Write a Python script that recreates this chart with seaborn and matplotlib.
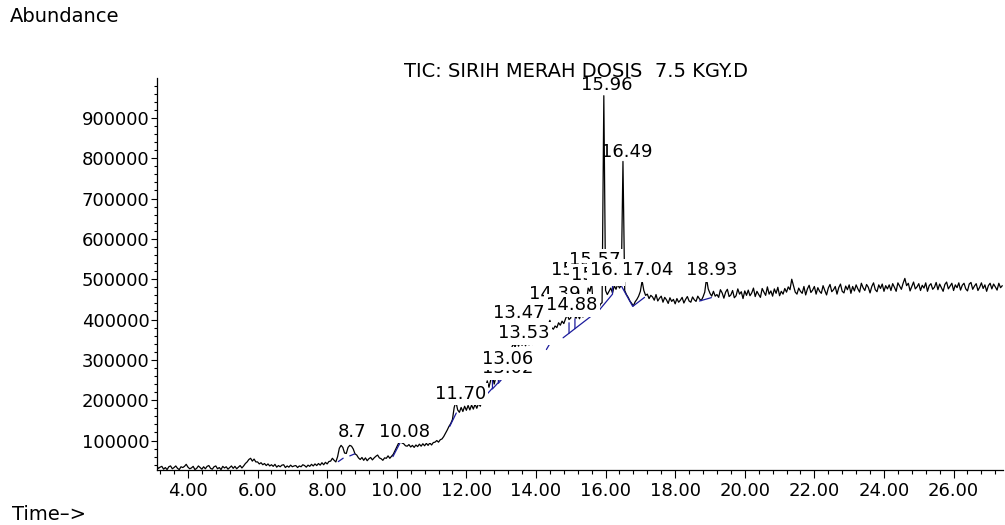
import numpy as np
import pandas as pd
import matplotlib
matplotlib.use("Agg")
import matplotlib.pyplot as plt
import seaborn as sns
from matplotlib.ticker import MultipleLocator, FuncFormatter

# ---------------- data ----------------
title = "TIC: SIRIH MERAH DOSIS  7.5 KGY.D"
y_label = "Abundance"
x_label = "Time\u2013>"

rt_start = 3.10      # retention time of first sample, min
rt_step = 0.05       # sampling interval, min

# abundance in thousands of counts, one row per minute
trace_a = [  # 3.10 - 8.05
    38, 31, 34, 36, 29, 33, 28, 35, 37, 30, 33, 37, 31, 28, 35, 33, 36, 41, 34, 30,
    32, 36, 28, 31, 37, 33, 29, 35, 30, 36, 38, 31, 29, 35, 37, 30, 33, 28, 36, 32,
    35, 29, 33, 37, 31, 36, 30, 34, 38, 32, 37, 43, 47, 53, 56, 49, 54, 47, 47, 42,
    45, 40, 43, 38, 42, 37, 40, 36, 41, 34, 38, 35, 39, 40, 33, 37, 34, 39, 35, 37,
    38, 33, 37, 35, 40, 38, 34, 39, 36, 41, 37, 42, 38, 43, 39, 45, 40, 46, 42, 48,
]
trace_b = [  # 8.10 - 13.05
    49, 56, 51, 47, 60, 81, 88, 83, 69, 68, 83, 88, 86, 79, 67, 64, 57, 53, 58, 51,
    57, 50, 55, 58, 52, 57, 61, 64, 57, 55, 51, 57, 56, 62, 56, 61, 66, 75, 84, 93,
    99, 94, 92, 87, 86, 90, 84, 88, 83, 89, 85, 91, 86, 92, 87, 93, 88, 94, 89, 95,
    96, 100, 96, 102, 104, 110, 118, 126, 135, 142, 152, 182, 196, 176, 170, 182, 172, 185, 175, 187,
    176, 188, 178, 190, 180, 192, 185, 200, 212, 230, 248, 232, 250, 262, 240, 258, 266, 250, 262, 275,
]
trace_c = [  # 13.10 - 18.05
    270, 288, 302, 318, 330, 340, 332, 344, 334, 346, 336, 347, 335, 345, 337, 348, 338, 347, 339, 349,
    352, 360, 368, 374, 380, 386, 398, 380, 376, 384, 380, 392, 386, 396, 390, 402, 412, 400, 404, 470,
    410, 403, 412, 402, 414, 406, 418, 440, 478, 470, 490, 430, 422, 434, 426, 438, 442, 955, 472, 462,
    470, 478, 466, 484, 475, 488, 478, 485, 792, 472, 462, 455, 446, 440, 434, 444, 450, 458, 470, 496,
    472, 460, 463, 452, 460, 456, 448, 462, 446, 453, 458, 443, 455, 449, 440, 454, 445, 450, 439, 452,
]
trace_d = [  # 18.10 - 23.05
    443, 448, 455, 441, 450, 457, 446, 443, 456, 449, 445, 458, 451, 447, 456, 468, 502, 476, 465, 458,
    470, 458, 462, 455, 474, 466, 453, 468, 475, 457, 461, 472, 454, 459, 476, 463, 469, 452, 471, 460,
    473, 459, 466, 478, 457, 470, 462, 455, 477, 468, 460, 481, 463, 471, 458, 476, 465, 480, 459, 470,
    463, 477, 468, 481, 474, 500, 484, 468, 463, 478, 470, 465, 482, 461, 476, 485, 467, 473, 482, 463,
    479, 470, 465, 484, 472, 461, 478, 487, 469, 474, 482, 463, 479, 488, 470, 466, 483, 474, 486, 465,
]
trace_e = [  # 23.10 - 27.40
    482, 471, 486, 476, 468, 490, 479, 472, 487, 480, 466, 482, 491, 474, 469, 486, 477, 488, 470, 484,
    476, 486, 472, 489, 480, 470, 491, 483, 475, 490, 502, 484, 490, 471, 482, 493, 476, 481, 489, 472,
    485, 478, 491, 470, 484, 489, 475, 480, 492, 474, 488, 479, 470, 487, 493, 476, 483, 490, 472, 486,
    479, 491, 473, 485, 490, 476, 471, 488, 492, 475, 483, 489, 472, 480, 491, 477, 486, 470, 484, 490,
    476, 488, 481, 473, 490, 479, 484,
]

# integration baselines (blue): polyline id, retention time, abundance
base_id = [0, 0, 1, 1, 2, 2, 3, 3,
           4, 4, 4, 5, 5, 5, 6, 6, 6, 7, 7,
           8, 8, 8, 9, 9, 9, 10, 10, 10, 11, 11,
           12, 12, 12, 12, 13, 13, 14, 14, 15, 15, 15, 16, 16]
base_rt = [8.32, 8.46, 8.65, 8.79, 9.89, 10.09, 11.52, 11.71,
           12.58, 12.75, 12.75, 12.75, 12.92, 12.92, 12.92, 13.05, 13.05, 13.34, 13.48,
           14.30, 14.44, 14.44, 14.78, 14.95, 14.95, 14.95, 15.12, 15.12, 15.12, 15.83,
           15.83, 16.20, 16.20, 16.20, 16.31, 16.31, 16.31, 16.31, 16.46, 16.78, 17.12, 18.70, 19.04]
base_ab = [47800, 56200, 61900, 66900, 60200, 93500, 134800, 168200,
           213700, 230000, 250000, 228000, 244000, 262000, 242000, 255300, 272000, 259200, 269200,
           325700, 346300, 360000, 354800, 366000, 392000, 366000, 377400, 402000, 377400, 424600,
           424600, 463000, 463000, 490000, 487000, 487000, 487000, 496000, 482400, 432600, 455000, 446000, 454300]

# peak labels (drawn in this order, later ones on top)
peak_text = ["8.7", "10.08", "11.70", "13.02", "13.06", "13.47", "13.53", "14.39", "14.88",
             "15.45", "15.57", "15.62", "16.26", "17.04", "18.93", "15.96", "16.49"]
peak_rt = [8.72, 10.23, 11.83, 13.19, 13.19, 13.50, 13.65, 14.54, 15.04,
           15.18, 15.69, 15.76, 16.28, 17.22, 19.04, 16.02, 16.62]
peak_ab = [120400, 120400, 216200, 279000, 303300, 415200, 365500, 464000, 435000,
           522000, 547100, 509800, 522200, 522000, 522000, 980700, 815800]
peak_boxed = [True] * 15 + [False, False]

x_major = 2.0
x_minor = 0.4
y_major = 100000
y_minor = 20000

# ---------------- build table ----------------
abund = np.array(trace_a + trace_b + trace_c + trace_d + trace_e, dtype=float) * 1000.0
rt = rt_start + rt_step * np.arange(len(abund))
df = pd.DataFrame({"rt": rt, "abund": abund})
bdf = pd.DataFrame({"id": base_id, "rt": base_rt, "abund": base_ab})

# ---------------- style ----------------
sns.set_theme(style="ticks")
plt.rcParams["font.family"] = ["DejaVu Sans"]
plt.rcParams["text.color"] = "black"
plt.rcParams["axes.edgecolor"] = "black"
plt.rcParams["xtick.color"] = "black"
plt.rcParams["ytick.color"] = "black"
FS = 13

fig = plt.figure(figsize=(10.05, 5.25), dpi=100)
ax = fig.add_axes([0.1562, 0.1048, 0.8418, 0.7467])

sns.lineplot(data=df, x="rt", y="abund", ax=ax, color="black", lw=0.9,
             estimator=None, sort=False, zorder=2)
sns.lineplot(data=bdf, x="rt", y="abund", units="id", ax=ax, color="#1c1c9c", lw=0.9,
             estimator=None, sort=False, zorder=3)

for i, (txt, x, y, boxed) in enumerate(zip(peak_text, peak_rt, peak_ab, peak_boxed)):
    kw = dict(ha="center", va="center", fontsize=FS, color="black", zorder=5 + i)
    if boxed:
        kw["bbox"] = dict(boxstyle="square,pad=0.12", fc="white", ec="none")
    ax.text(x, y, txt, **kw)

ax.set_xlim(3.11, 27.42)
ax.set_ylim(27000, 999000)
ax.set_xlabel("")
ax.set_ylabel("")

ax.xaxis.set_major_locator(MultipleLocator(x_major))
ax.xaxis.set_minor_locator(MultipleLocator(x_minor))
ax.yaxis.set_major_locator(MultipleLocator(y_major))
ax.yaxis.set_minor_locator(MultipleLocator(y_minor))
ax.xaxis.set_major_formatter(FuncFormatter(lambda v, p: f"{v:.2f}"))
ax.yaxis.set_major_formatter(FuncFormatter(lambda v, p: f"{v:.0f}"))

ax.tick_params(axis="x", which="major", length=5.8, width=0.8, pad=3, labelsize=FS, direction="out")
ax.tick_params(axis="x", which="minor", length=2.9, width=0.8, direction="out")
ax.tick_params(axis="y", which="major", length=4.3, width=0.8, pad=1, labelsize=FS, direction="out")
ax.tick_params(axis="y", which="minor", length=2.0, width=0.8, direction="out")

for s in ["top", "right"]:
    ax.spines[s].set_visible(False)
for s in ["left", "bottom"]:
    ax.spines[s].set_linewidth(0.9)
    ax.spines[s].set_color("black")

fig.text(0.573, 0.854, title, ha="center", va="baseline", fontsize=14)
fig.text(0.010, 0.959, y_label, ha="left", va="baseline", fontsize=14)
fig.text(0.012, 0.0095, x_label, ha="left", va="baseline", fontsize=14)

fig.savefig("out.png", dpi=100, facecolor="white")
